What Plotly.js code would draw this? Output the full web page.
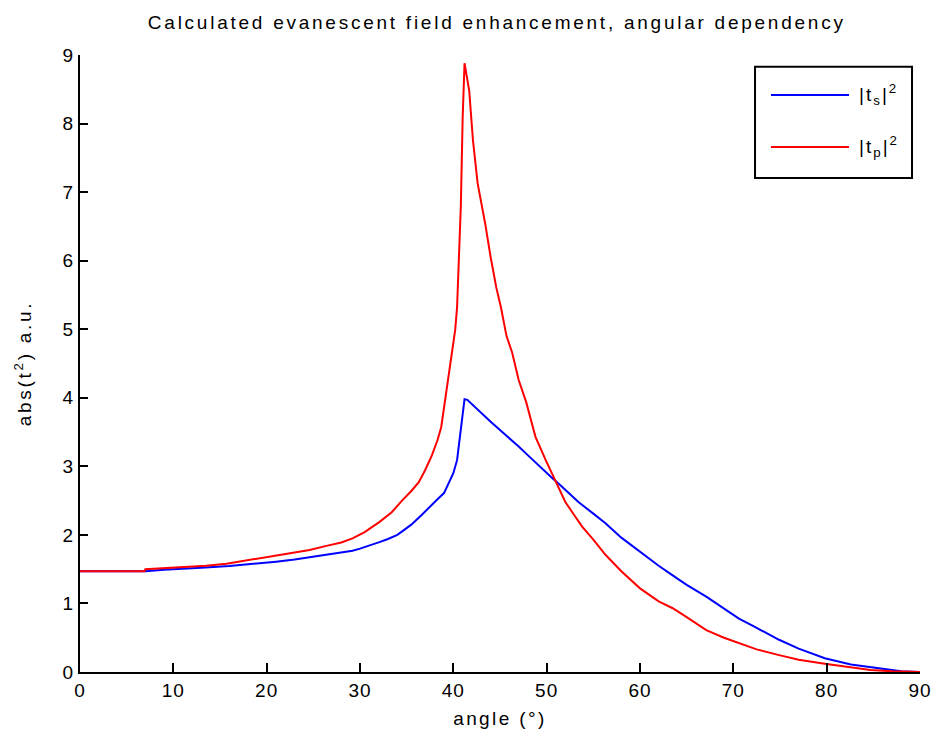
<!DOCTYPE html>
<html>
<head>
<meta charset="utf-8">
<script src="https://cdn.plot.ly/plotly-3.0.1.min.js"></script>
<style>
  body { margin: 0; padding: 0; background: #fff; }
  #chart { width: 932px; height: 731px; }
  .gtitle { letter-spacing: 2.75px; }
  .xtitle { letter-spacing: 2.4px; }
  .ytitle { letter-spacing: 2.7px; }
  .xtick text, .ytick text { letter-spacing: 1px; }
  .annotation-text { letter-spacing: 2px; }
</style>
</head>
<body>
<div id="chart"></div>
<script>
// Angles (degrees) and values
const angleS = [0, 5, 7, 9, 11, 13, 16, 19, 21, 23, 25, 26.4, 28, 29.2, 30, 31, 32, 33, 34, 34.7, 35.5, 36.6, 37.5, 38.3, 39.0, 39.6, 40.0, 40.4, 40.8, 41.2, 41.5, 42.4, 43, 44, 45, 46.3, 47, 48, 49, 50, 50.5, 51.5, 52.5, 53.4, 55, 56.3, 58, 60, 62, 63.5, 65, 67.1, 69, 70.6, 72, 74.9, 77, 79.8, 82.6, 85.1, 86.5, 88, 90];
const tsSquared = [1.47, 1.47, 1.47, 1.49, 1.50, 1.52, 1.545, 1.58, 1.61, 1.64, 1.68, 1.71, 1.74, 1.77, 1.80, 1.84, 1.89, 1.94, 2.00, 2.07, 2.15, 2.29, 2.42, 2.52, 2.61, 2.77, 2.90, 3.09, 3.55, 3.98, 3.97, 3.85, 3.78, 3.65, 3.53, 3.38, 3.29, 3.16, 3.03, 2.91, 2.84, 2.72, 2.60, 2.48, 2.31, 2.17, 1.96, 1.75, 1.55, 1.41, 1.27, 1.10, 0.93, 0.78, 0.68, 0.47, 0.34, 0.20, 0.11, 0.06, 0.03, 0.01, 0.0];

const angleP = [0, 6.9, 7, 10.7, 13.5, 15.7, 17.5, 19.2, 21, 22.8, 24.6, 26.4, 28, 29.2, 30.5, 32.1, 33.4, 34.5, 35.5, 36.3, 37.0, 37.7, 38.3, 38.7, 39.3, 39.9, 40.2, 40.4, 40.8, 41.0, 41.2, 41.7, 42.1, 42.6, 43.4, 44.0, 44.6, 45.1, 45.7, 46.3, 47.0, 47.8, 48.8, 49.9, 50.9, 52.0, 53.0, 53.8, 55, 56.3, 58, 60, 62, 63.5, 65, 67.1, 69, 70.6, 72.5, 74.8, 77, 79.8, 82.6, 84.7, 87, 90];
const tpSquared = [1.47, 1.47, 1.50, 1.53, 1.55, 1.58, 1.62, 1.66, 1.69, 1.73, 1.78, 1.84, 1.89, 1.95, 2.04, 2.19, 2.33, 2.50, 2.64, 2.77, 2.95, 3.16, 3.38, 3.57, 4.11, 4.69, 4.99, 5.32, 6.78, 8.09, 8.88, 8.48, 7.76, 7.13, 6.55, 6.05, 5.61, 5.32, 4.90, 4.66, 4.26, 3.94, 3.43, 3.09, 2.80, 2.48, 2.28, 2.12, 1.93, 1.71, 1.47, 1.22, 1.03, 0.93, 0.80, 0.61, 0.50, 0.42, 0.33, 0.25, 0.18, 0.12, 0.07, 0.03, 0.01, 0.0];

const xTicks = [0, 10, 20, 30, 40, 50, 60, 70, 80, 90];
const yTicks = [0, 1, 2, 3, 4, 5, 6, 7, 8, 9];
const seriesNames = ['|t<sub>s</sub>|<sup>2</sup>', '|t<sub>p</sub>|<sup>2</sup>'];
const seriesColors = ['#0000ff', '#ff0000'];

const FONT = "'Liberation Sans', Arial, sans-serif";
const FS = 19;

const traces = [
  { x: angleS, y: tsSquared, type: 'scatter', mode: 'lines', name: seriesNames[0],
    line: { color: seriesColors[0], width: 2 }, showlegend: false },
  { x: angleP, y: tpSquared, type: 'scatter', mode: 'lines', name: seriesNames[1],
    line: { color: seriesColors[1], width: 2 }, showlegend: false }
];

// Legend drawn as a box with sample lines and labels (paper coordinates, plot area 80..920 px)
const legBox = { x0: 0.8036, x1: 0.9905, y0: 0.8006, y1: 0.981 };
const legRows = [0.9352, 0.8509];
const shapes = [
  { type: 'rect', xref: 'paper', yref: 'paper', x0: legBox.x0, x1: legBox.x1, y0: legBox.y0, y1: legBox.y1,
    line: { color: '#000', width: 2 }, fillcolor: '#fff' }
];
const annotations = [];
legRows.forEach((yy, i) => {
  shapes.push({ type: 'line', xref: 'paper', yref: 'paper', x0: 0.8226, x1: 0.9155, y0: yy, y1: yy,
    line: { color: seriesColors[i], width: 2 } });
  annotations.push({ xref: 'paper', yref: 'paper', x: 0.925, y: yy, xanchor: 'left', yanchor: 'middle',
    text: seriesNames[i], showarrow: false, font: { family: FONT, size: FS, color: '#000' } });
});

const layout = {
  width: 932, height: 731,
  margin: { l: 80, r: 12, t: 55, b: 59 },
  paper_bgcolor: '#fff', plot_bgcolor: '#fff',
  font: { family: FONT, size: FS, color: '#000' },
  title: { text: 'Calculated evanescent field enhancement, angular dependency',
    font: { family: FONT, size: FS, color: '#000' },
    x: 0.533, xref: 'container', xanchor: 'center', y: 0.970, yref: 'container', yanchor: 'middle' },
  xaxis: {
    range: [0, 90], tickvals: xTicks, ticktext: xTicks.map(String),
    ticks: 'inside', ticklen: 9, tickwidth: 2, tickcolor: '#000',
    showline: true, linecolor: '#000', linewidth: 2, mirror: false,
    showgrid: false, zeroline: false, ticklabeloverflow: 'allow',
    tickfont: { family: FONT, size: FS, color: '#000' },
    title: { text: 'angle (°)', font: { family: FONT, size: FS, color: '#000' }, standoff: 12 }
  },
  yaxis: {
    range: [0, 9], tickvals: yTicks, ticktext: yTicks.map(String),
    ticks: 'inside', ticklen: 8, tickwidth: 2, tickcolor: '#000',
    showline: true, linecolor: '#000', linewidth: 2, mirror: false,
    showgrid: false, zeroline: false, ticklabeloverflow: 'allow',
    tickfont: { family: FONT, size: FS, color: '#000' },
    title: { text: 'abs(t<sup>2</sup>) a.u.', font: { family: FONT, size: FS, color: '#000' }, standoff: 26 }
  },
  shapes: shapes,
  annotations: annotations,
  showlegend: false
};

Plotly.newPlot('chart', traces, layout, { displayModeBar: false, staticPlot: true });
</script>
</body>
</html>
